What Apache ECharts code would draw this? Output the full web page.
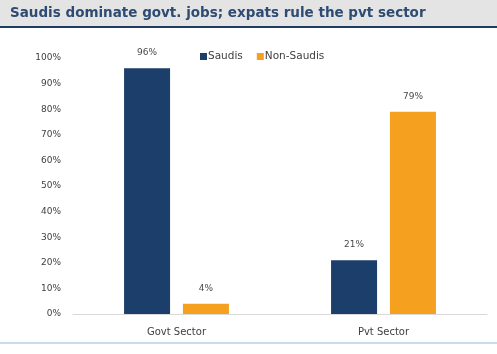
<!DOCTYPE html>
<html>
<head>
<meta charset="utf-8">
<script src="https://cdn.jsdelivr.net/npm/echarts@6/dist/echarts.min.js"></script>
<style>
  html, body { margin: 0; padding: 0; background: #ffffff; }
  #chart { width: 497px; height: 354px; }
</style>
</head>
<body>
<div id="chart"></div>
<script>
// Share of employment by nationality in each sector (%)
const categories = ['Govt Sector', 'Pvt Sector'];
const saudis = [96, 21];
const nonSaudis = [4, 79];
const seriesNames = ['Saudis', 'Non-Saudis'];
const yTicks = [0, 10, 20, 30, 40, 50, 60, 70, 80, 90, 100];

const FONT = '"DejaVu Sans", sans-serif';
const chart = echarts.init(document.getElementById('chart'), null, { renderer: 'canvas' });

const valueLabel = {
  show: true,
  position: 'top',
  distance: 11,
  formatter: p => p.value + '%',
  color: '#4a4a4a',
  fontSize: 9,
  fontFamily: FONT
};

chart.setOption({
  animation: false,
  backgroundColor: '#ffffff',
  graphic: [
    { type: 'rect', left: 0, top: 0, shape: { width: 497, height: 26 }, style: { fill: '#e4e4e4' }, z: -1 },
    { type: 'rect', left: 0, top: 26, shape: { width: 497, height: 2 }, style: { fill: '#1f3d63' } },
    { type: 'rect', left: 0, top: 342, shape: { width: 497, height: 2 }, style: { fill: '#c9dcee' } },
    {
      type: 'text', left: 10, top: 6,
      style: {
        text: 'Saudis dominate govt. jobs; expats rule the pvt sector',
        fill: '#2d4b73', font: 'bold 13.5px ' + FONT
      }
    }
  ],
  legend: {
    data: seriesNames,
    top: 46,
    left: 195,
    itemWidth: 7,
    itemHeight: 7,
    itemGap: 14,
    icon: 'rect',
    textStyle: { color: '#404040', fontSize: 10.5, fontFamily: FONT, padding: [0, 0, 0, -4] }
  },
  grid: { left: 73, right: 10, top: 58, bottom: 40 },
  xAxis: {
    type: 'category',
    data: categories,
    axisTick: { show: false },
    axisLine: { lineStyle: { color: '#d9d9d9', width: 1 } },
    axisLabel: { color: '#404040', fontSize: 10, fontFamily: FONT, margin: 13 }
  },
  yAxis: {
    type: 'value',
    min: yTicks[0],
    max: yTicks[yTicks.length - 1],
    interval: 10,
    splitLine: { show: false },
    axisLine: { show: false },
    axisTick: { show: false },
    axisLabel: { formatter: '{value}%', color: '#404040', fontSize: 9, fontFamily: FONT, margin: 12 }
  },
  series: [
    {
      name: seriesNames[0], type: 'bar', data: saudis,
      barWidth: 46, barGap: '28%',
      itemStyle: { color: '#1c3e6b' },
      label: valueLabel
    },
    {
      name: seriesNames[1], type: 'bar', data: nonSaudis,
      barWidth: 46,
      itemStyle: { color: '#f5a01e' },
      label: valueLabel
    }
  ]
});
</script>
</body>
</html>
